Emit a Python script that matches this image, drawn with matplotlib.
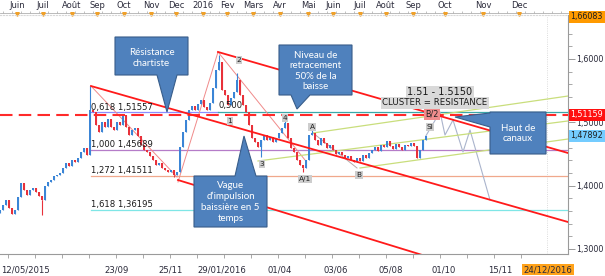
import numpy as np
import matplotlib
matplotlib.use('Agg')
from matplotlib import pyplot as plt
from matplotlib.patches import Polygon
from matplotlib.ticker import FixedLocator, MultipleLocator, FuncFormatter

# daily closes (one candle per step)
open_first = 1.3570
closes = [
    1.3615, 1.3694, 1.3773, 1.3646, 1.3551, 1.3615, 1.3820, 1.4041, 1.3930, 1.3852,
    1.3930, 1.3962, 1.3899, 1.3836, 1.3773, 1.3994, 1.4057, 1.4088, 1.4152, 1.4167,
    1.4199, 1.4278, 1.4357, 1.4310, 1.4404, 1.4373, 1.4436, 1.4531, 1.4594, 1.4483,
    1.5194, 1.5163, 1.4957, 1.4847, 1.5005, 1.4926, 1.5052, 1.4926, 1.4878, 1.5005,
    1.4957, 1.5115, 1.4926, 1.4799, 1.4878, 1.4910, 1.4784, 1.4641, 1.4562, 1.4531,
    1.4468, 1.4404, 1.4325, 1.4357, 1.4278, 1.4246, 1.4215, 1.4246, 1.4167, 1.4215,
    1.4610, 1.4847, 1.5036, 1.5194, 1.5258, 1.5194, 1.5289, 1.5352, 1.5242, 1.5194,
    1.5305, 1.5542, 1.5826, 1.5953, 1.5510, 1.5431, 1.5273, 1.5384, 1.5479, 1.5668,
    1.5431, 1.5273, 1.5163, 1.4957, 1.4752, 1.4689, 1.4610, 1.4720, 1.4799, 1.4720,
    1.4768, 1.4689, 1.4752, 1.4831, 1.4910, 1.4989, 1.4752, 1.4594, 1.4531, 1.4404,
    1.4325, 1.4278, 1.4404, 1.4799, 1.4831, 1.4720, 1.4641, 1.4752, 1.4673, 1.4594,
    1.4641, 1.4562, 1.4499, 1.4531, 1.4483, 1.4436, 1.4468, 1.4404, 1.4373, 1.4436,
    1.4389, 1.4483, 1.4436, 1.4515, 1.4562, 1.4610, 1.4547, 1.4641, 1.4610, 1.4705,
    1.4626, 1.4578, 1.4657, 1.4610, 1.4562, 1.4641, 1.4626, 1.4673, 1.4626, 1.4436,
    1.4562, 1.4720, 1.4789,
]
wick_idx = [14, 30, 58, 73, 79, 87, 95, 101, 104]
wick_val = [1.3536, 1.5573, 1.4136, 1.6063, 1.5779, 1.4452, 1.5036, 1.4215, 1.4878]

# projected path (grey zigzag)
proj_x = [142, 146.67, 148.33, 151, 154.33, 156.67, 163.33]
proj_y = [1.4789, 1.5163, 1.4799, 1.5036, 1.4531, 1.4878, 1.3773]

# fibonacci levels
fib_ratio = ['0,618', '1,000', '1,272', '1,618']
fib_value = [1.51557, 1.45689, 1.41511, 1.36195]
fib_colors = ['#8c8cff', '#b57cc8', '#f0a88c', '#7fe6e6']
fib_start = 30.33
retr_start, retr_value = 72.67, 1.5163
resistance = 1.51159

# trend lines: ((x0, y0), (x1, y1))
red_thick = [((30.33, 1.5573), (189.33, 1.3425)),
             ((59.33, 1.4088), (141.7, 1.2890)),
             ((72.67, 1.6111), (189.33, 1.4515))]
red_thin = [((30.33, 1.5573), (59.0, 1.4136)),
            ((59.33, 1.4057), (72.67, 1.6111)),
            ((72.67, 1.6111), (101.67, 1.4404))]
grey_thin = [((104.33, 1.4831), (119.0, 1.4278))]
green = [((104.33, 1.4831), (189.33, 1.5415)),
         ((86.0, 1.4389), (189.33, 1.5021)),
         ((120.0, 1.4278), (189.33, 1.4736))]

# wave labels
wave_text = ['1', '2', '3', '4', 'A/1', 'A', 'B', 'SI']
wave_x = [76.67, 79.67, 87.33, 95.0, 101.67, 104.0, 119.67, 143.33]
wave_y = [1.5020, 1.5984, 1.4341, 1.5068, 1.4104, 1.4926, 1.4167, 1.4926]

months = ['Juin', 'Juil', 'Août', 'Sep', 'Oct', 'Nov', 'Dec', '2016', 'Fev', 'Mars',
          'Avr', 'Mai', 'Juin', 'Juil', 'Août', 'Sep', 'Oct', 'Nov', 'Dec']
month_pos = [5.67, 14.33, 24, 32.33, 41.33, 50.33, 58.67, 67.67, 75.67, 84.33,
             93.33, 102.67, 111, 120, 128.67, 137.67, 148.33, 161, 173]
dates = ['12/05/2015', '23/09', '25/11', '29/01/2016', '01/04', '03/06', '05/08',
         '01/10', '15/11', '24/12/2016']
date_pos = [8.33, 39, 57, 74, 93.33, 112, 130.33, 148, 166.67, 182.67]

W, H = 605, 276
fig = plt.figure(figsize=(W / 100, H / 100), dpi=100)
top_px, bot_px, right_px = 15, 254, 568
ax = fig.add_axes([0, (H - bot_px) / H, right_px / W, (bot_px - top_px) / H])
ax.set_xlim(0, 189.33)
ax.set_ylim(1.29194, 1.6695)

txt = '#2a2a3a'
axis_c = '#9a9a9a'

# candles
x = np.arange(len(closes))
opens = np.array([open_first] + closes[:-1])
cl = np.array(closes)
col = np.where(cl >= opens, '#3b85d6', '#e8313a')
ax.bar(x, cl - opens, bottom=opens, width=0.55, color=col, linewidth=0, zorder=4)
ax.vlines(x, np.minimum(opens, cl), np.maximum(opens, cl), colors=col, lw=0.8, zorder=4)
ax.vlines(wick_idx, cl[wick_idx], wick_val, colors=col[wick_idx], lw=0.8, zorder=4)

ax.plot(proj_x, proj_y, color='#aab4cc', lw=0.8, zorder=3)

# fib levels
for r, v, c in zip(fib_ratio, fib_value, fib_colors):
    end = 72.67 if r == '0,618' else 189.33
    ax.plot([fib_start, end], [v, v], color=c, lw=0.9, zorder=2)
    ax.text(fib_start, v + 0.0085, f'{r} {v:.5f}'.replace('.', ','),
            fontsize=6.1, color='#1a1a1a', va='center', ha='left', zorder=6)
ax.plot([retr_start, 189.33], [retr_value, retr_value], color='#3aa8a8', lw=0.9, zorder=2)
ax.text(retr_start, retr_value + 0.0095, '0,500', fontsize=6.1, color='#1a1a1a',
        va='center', ha='left', zorder=6)
ax.plot([0, 189.33], [resistance, resistance], color='#ff2a2a', lw=1.5,
        dashes=(6, 3), zorder=5)

for (a, b) in red_thick:
    ax.plot([a[0], b[0]], [a[1], b[1]], color='#ff1a1a', lw=1.3, zorder=5)
for (a, b) in red_thin:
    ax.plot([a[0], b[0]], [a[1], b[1]], color='#f08a8a', lw=0.7, zorder=3)
for (a, b) in grey_thin:
    ax.plot([a[0], b[0]], [a[1], b[1]], color='#b8a8a8', lw=0.7, zorder=3)
for (a, b) in green:
    ax.plot([a[0], b[0]], [a[1], b[1]], color='#c9de7c', lw=0.9, zorder=3)

ax.axvline(182.33, color='#d0d0d0', lw=0.6, ls=':', zorder=1)

# wave tags
for s, wx, wy in zip(wave_text, wave_x, wave_y):
    ax.text(wx, wy, s, fontsize=5.3, color='#202020', ha='center', va='center', zorder=8,
            bbox=dict(boxstyle='square,pad=0.15', fc='#cdcdcd', ec='none'))
ax.text(144, 1.5131, 'B/2', fontsize=5.8, color='#202020', ha='center', va='center', zorder=8,
        bbox=dict(boxstyle='square,pad=0.15', fc='#f08c8c', ec='none'))
ax.text(146.67, 1.5479, '1.51 - 1.5150', fontsize=7, color='#1a1a1a', ha='center',
        va='center', zorder=8, bbox=dict(boxstyle='square,pad=0.15', fc='#d9d9d9', ec='none'))
ax.text(145, 1.5305, 'CLUSTER = RESISTANCE', fontsize=6.2, color='#1a1a1a', ha='center',
        va='center', zorder=8, bbox=dict(boxstyle='square,pad=0.15', fc='#d9d9d9', ec='none'))

# axes styling
ax.spines['left'].set_visible(False)
ax.spines['top'].set_color('#d8d8d8')
ax.spines['top'].set_linestyle(':')
ax.spines['right'].set_color(axis_c)
ax.spines['bottom'].set_color(axis_c)
ax.spines['right'].set_linewidth(0.8)
ax.spines['bottom'].set_linewidth(0.8)

ax.yaxis.tick_right()
ax.set_yticks([1.3, 1.4, 1.5, 1.6])
ax.yaxis.set_major_formatter(FuncFormatter(lambda v, p: f'{v:.4f}'.replace('.', ',')))
ax.yaxis.set_minor_locator(MultipleLocator(0.02))
ax.tick_params(axis='y', which='major', length=5, width=0.7, color=axis_c,
               labelsize=5.8, labelcolor=txt, pad=1)
ax.tick_params(axis='y', which='minor', length=3, width=0.6, color=axis_c)

ax.set_xticks(date_pos)
ax.set_xticklabels(dates)
ax.xaxis.set_minor_locator(FixedLocator(np.arange(2.67, 189, 9)))
ax.tick_params(axis='x', which='major', length=0, labelsize=6.1, labelcolor=txt, pad=8)
ax.tick_params(axis='x', which='minor', length=3, width=0.6, color=axis_c)
ax.get_xticklabels()[-1].set_bbox(dict(boxstyle='square,pad=0.15', fc='#ffa21a', ec='none'))

# top month strip
xt = ax.get_xaxis_transform()
ax.plot([0, 189.33], [1.0084, 1.0084], transform=xt, color='#b0b0b0', lw=0.6, clip_on=False)
ax.vlines(np.arange(1, 189, 3), 1.0084, 1.016, transform=xt, colors='#a8a8a8', lw=0.5,
          clip_on=False)
ax.plot(month_pos, [1.0025] * len(month_pos), 'v', transform=xt, color='#f0a028',
        ms=2.6, clip_on=False)
for m, p in zip(months, month_pos):
    ax.text(p, 1.0377, m, transform=xt, fontsize=6, color=txt, ha='center', va='center')

# highlighted right-hand price tags
yt = ax.get_yaxis_transform()
for val, lab, fc, tc in [(1.6665, '1,66083', '#ff9a00', '#202020'),
                         (1.51159, '1,51159', '#ff1010', 'white'),
                         (1.47892, '1,47892', '#74ccff', '#202020')]:
    ax.text(1.0045, val, lab, transform=yt, fontsize=5.8, color=tc, ha='left', va='center',
            zorder=10, clip_on=False,
            bbox=dict(boxstyle='square,pad=0.2', fc=fc, ec='none'))

# callout boxes in pixel space
def fp(px, py):
    return (px / W, 1 - py / H)

callouts = [
    ('Résistance\nchartiste', [(115, 37), (188, 37), (188, 75), (177, 75), (167, 112),
                               (157, 75), (115, 75)], (151.5, 58)),
    ('Niveau de\nretracement\n50% de la\nbaisse', [(279, 45), (352, 45), (352, 95), (310, 95),
                                                   (297, 109), (291, 95), (279, 95)], (315.5, 71)),
    ('Vague\nd’impulsion\nbaissière en 5\ntemps', [(194, 176), (235, 176), (244, 136), (256, 176),
                                                   (267, 176), (267, 227), (194, 227)], (230.5, 202)),
    ('Haut de\ncanaux', [(490, 112), (546, 112), (546, 154), (490, 154), (490, 127), (455, 117),
                         (490, 113)], (518, 133.5)),
]
for label, pts, c in callouts:
    fig.patches.append(Polygon([fp(*p) for p in pts], closed=True, transform=fig.transFigure,
                               fc='#4f81bd', ec='#385d8a', lw=0.8, zorder=20))
    fig.text(*fp(*c), label, fontsize=7, family=['Lato', 'DejaVu Sans'], color='white',
             ha='center', va='center', linespacing=1.22, zorder=21)

fig.savefig('out.png', dpi=100, facecolor='white')
